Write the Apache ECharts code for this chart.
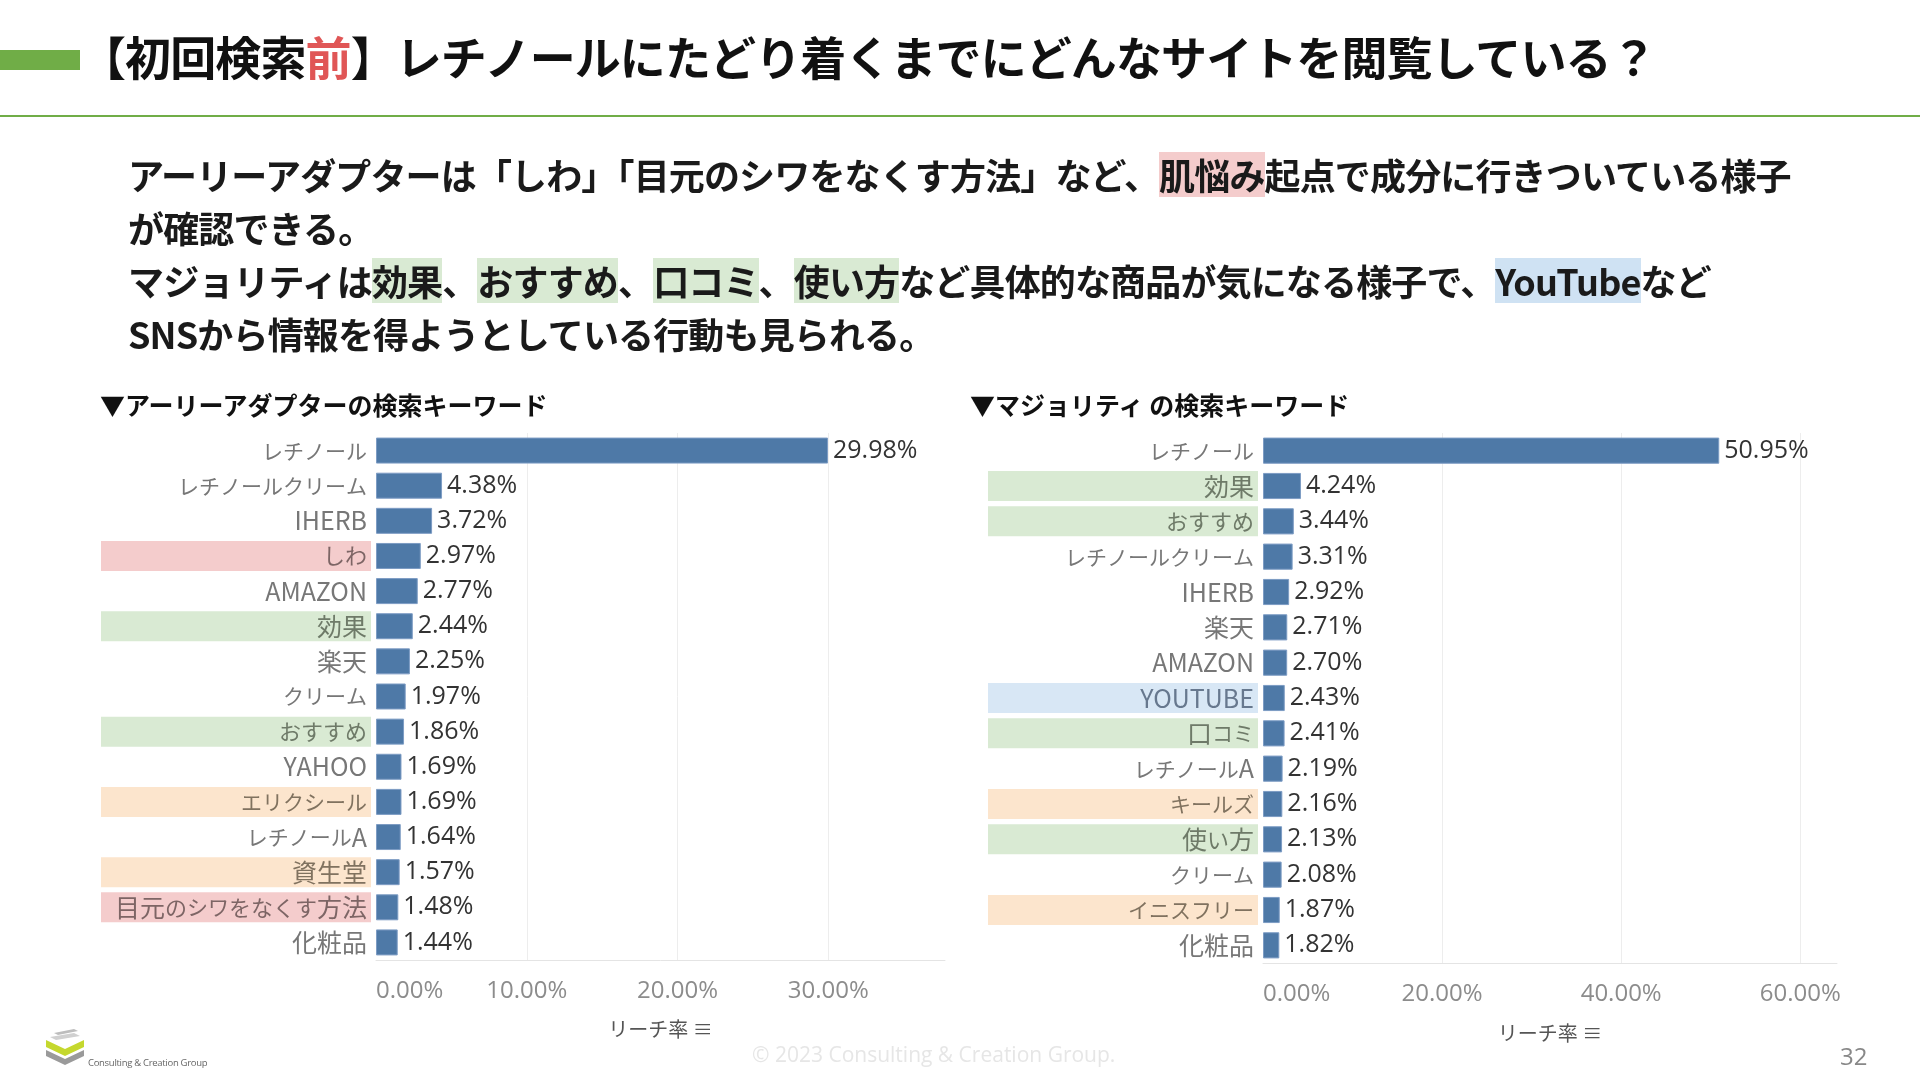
<!DOCTYPE html>
<html lang="ja">
<head>
<meta charset="utf-8">
<script src="https://cdn.jsdelivr.net/npm/echarts@6/dist/echarts.min.js"></script>
<style>
  html, body { margin:0; padding:0; width:1920px; height:1080px; background:#fff; overflow:hidden;
    font-family:"Noto Sans CJK JP","Noto Sans",sans-serif; }
  #chart { position:absolute; left:0; top:0; width:1920px; height:1080px; }
  .abs { position:absolute; white-space:nowrap; }
  #gbar { left:0; top:50px; width:80px; height:20px; background:#70ad47; }
  #title { left:80px; top:25px; font-size:46px; line-height:60px; font-weight:700; color:#111; letter-spacing:-0.9px; }
  #title .red { color:#e05656; }
  #rule { left:0; top:115px; width:1920px; height:2px; background:#70ad47; }
  #body { left:128px; top:148px; font-size:36px; line-height:53px; font-weight:700; color:#1a1a1a; letter-spacing:-0.85px; }
  #body .h { display:inline-block; line-height:45px; }
  .pk { background:#f4cccc; } .gr { background:#d9ead3; } .bl { background:#cfe2f3; }
  .sub { font-size:25px; line-height:30px; font-weight:700; color:#111; top:389px; }
  #foot { left:752px; top:1040px; font-size:21px; color:#e6e6e6; font-family:"Open Sans",sans-serif; }
  #page { left:1840px; top:1039px; font-size:24px; color:#888; font-family:"Open Sans",sans-serif; }
  #logoText { left:88px; top:1056px; font-size:9.5px; color:#666; font-family:"Open Sans",sans-serif; letter-spacing:-0.3px; }
</style>
</head>
<body>
<div id="chart"></div>
<div class="abs" id="gbar"></div>
<div class="abs" id="title">【初回検索<span class="red">前</span>】レチノールにたどり着くまでにどんなサイトを閲覧している？</div>
<div class="abs" id="rule"></div>
<div class="abs" id="body">
アーリーアダプターは「しわ」「目元のシワをなくす方法」など、<span class="h pk">肌悩み</span>起点で成分に行きついている様子<br>
が確認できる。<br>
マジョリティは<span class="h gr">効果</span>、<span class="h gr">おすすめ</span>、<span class="h gr">口コミ</span>、<span class="h gr">使い方</span>など具体的な商品が気になる様子で、<span class="h bl">YouTube</span>など<br>
SNSから情報を得ようとしている行動も見られる。
</div>
<div class="abs sub" style="left:100px;">▼アーリーアダプターの検索キーワード</div>
<div class="abs sub" style="left:970px;">▼マジョリティ の検索キーワード</div>
<svg class="abs" style="left:44px;top:1028px;" width="44" height="42" viewBox="0 0 44 42">
  <polygon points="2,22 21,31 40,22 40,28 21,37 2,28" fill="#9a9a9a"/>
  <polygon points="2,12 21,21 40,12 40,19 21,28 2,19" fill="#c5d82e"/>
  <polygon points="10,5 30,1 34,3 14,7" fill="#bdbdbd"/>
  <polygon points="6,9 30,5 36,8 12,12" fill="#d0d0d0"/>
</svg>
<div class="abs" id="logoText">Consulting &amp; Creation Group</div>
<div class="abs" id="foot">© 2023 Consulting &amp; Creation Group.</div>
<div class="abs" id="page">32</div>

<script>
// ---- data ----
const leftCats = ['レチノール','レチノールクリーム','IHERB','しわ','AMAZON','効果','楽天','クリーム','おすすめ','YAHOO','エリクシール','レチノールA','資生堂','目元のシワをなくす方法','化粧品'];
const leftVals = [29.98,4.38,3.72,2.97,2.77,2.44,2.25,1.97,1.86,1.69,1.69,1.64,1.57,1.48,1.44];
const leftMarks = ['n','n','n','pink','n','green','n','n','green','n','orange','n','orange','pink','n'];

const rightCats = ['レチノール','効果','おすすめ','レチノールクリーム','IHERB','楽天','AMAZON','YOUTUBE','口コミ','レチノールA','キールズ','使い方','クリーム','イニスフリー','化粧品'];
const rightVals = [50.95,4.24,3.44,3.31,2.92,2.71,2.70,2.43,2.41,2.19,2.16,2.13,2.08,1.87,1.82];
const rightMarks = ['n','green','green','n','n','n','n','blue','green','n','orange','green','n','orange','n'];

const leftTicks = { min:0, max:37.74, interval:10 };
const rightTicks = { min:0, max:64.1, interval:20 };
const axisName = 'リーチ率 ≡';

// ---- styles ----
const FONT = '"Noto Sans CJK JP","Noto Sans",sans-serif';
const palette = {
  n: ['#777777', null],
  pink: ['#7d6565', '#f4cccc'],
  green: ['#6e7a68', '#d9ead3'],
  orange: ['#80725f', '#fce5cd'],
  blue: ['#67788e', '#d8e7f5']
};
// font size per character class (reference uses a condensed proportional face)
const classSize = { k:25, h:22, ka:21, l:25 };

const textRich = {};
const bgRich = {};
Object.keys(palette).forEach(function(m){
  Object.keys(classSize).forEach(function(c){
    textRich[c + '_' + m] = { fontSize:classSize[c], fontFamily:FONT, color:palette[m][0], lineHeight:26 };
  });
  if (palette[m][1]) {
    bgRich[m] = { width:262, height:22, lineHeight:22, padding:[4,4,4,4], backgroundColor:palette[m][1], fontSize:12 };
  }
});

function charClass(ch) {
  if (/[\u4e00-\u9fff]/.test(ch)) return 'k';
  if (/[\u3040-\u309f]/.test(ch)) return 'h';
  if (/[\u30a0-\u30ff]/.test(ch)) return 'ka';
  return 'l';
}
function richLabel(v, mark) {
  let out = '', cur = null, buf = '';
  for (const ch of v) {
    const c = charClass(ch);
    if (c !== cur && buf) { out += '{' + cur + '_' + mark + '|' + buf + '}'; buf = ''; }
    cur = c; buf += ch;
  }
  if (buf) out += '{' + cur + '_' + mark + '|' + buf + '}';
  return out;
}

function pct(v) { return v.toFixed(2) + '%'; }

function makeAxes(idx, ticks, cats, marks, gap, lm) {
  const x = {
    type:'value', gridIndex:idx, min:ticks.min, max:ticks.max, interval:ticks.interval,
    axisLine:{ show:true, lineStyle:{ color:'#e4e4e4', width:1 } },
    axisTick:{ show:false },
    splitLine:{ show:true, showMinLine:false, showMaxLine:false,
      lineStyle:{ color:['#ededed','#ededed','#ededed','rgba(255,255,255,0)'], width:1 } },
    axisLabel:{ formatter:pct, fontSize:24, color:'#8c8c8c', fontFamily:'"Open Sans",sans-serif', margin:lm,
      showMaxLabel:false, alignMinLabel:'left' },
    name:axisName, nameLocation:'middle', nameGap:gap,
    nameTextStyle:{ fontSize:20, color:'#555', fontFamily:FONT }
  };
  const base = { type:'category', gridIndex:idx, data:cats, inverse:true, position:'left', offset:0,
    axisLine:{ show:false }, axisTick:{ show:false }, splitLine:{ show:false } };
  const yBg = Object.assign({}, base, { z:0,
    axisLabel:{ margin:5, interval:0, rich:bgRich, formatter:function(v, i){
      return marks[i] === 'n' ? '' : '{' + marks[i] + '| }'; } } });
  const yText = Object.assign({}, base, { z:2,
    axisLabel:{ margin:9, interval:0, rich:textRich, formatter:function(v, i){ return richLabel(v, marks[i]); } } });
  return [x, yBg, yText];
}
function makeSeries(idx, yIdx, vals) {
  return {
    type:'bar', xAxisIndex:idx, yAxisIndex:yIdx, data:vals, barCategoryGap:'26%',
    itemStyle:{ color:'#4e79a7', borderColor:'#7d9cc4', borderWidth:1 },
    label:{ show:true, position:'right', distance:5, formatter:function(p){ return pct(p.value); },
      fontSize:25, color:'#333', fontFamily:'"Open Sans",sans-serif' },
    silent:true, animation:false
  };
}

const L = makeAxes(0, leftTicks, leftCats, leftMarks, 59, 19);
const R = makeAxes(1, rightTicks, rightCats, rightMarks, 60, 19);

const chart = echarts.init(document.getElementById('chart'));
chart.setOption({
  animation:false,
  grid:[
    { left:376, top:433, width:569, height:527, containLabel:false, outerBoundsMode:'none' },
    { left:1263, top:433, width:574, height:530, containLabel:false, outerBoundsMode:'none' }
  ],
  xAxis:[L[0], R[0]],
  yAxis:[L[1], L[2], R[1], R[2]],
  series:[ makeSeries(0, 1, leftVals), makeSeries(1, 3, rightVals) ]
});
</script>
</body>
</html>
